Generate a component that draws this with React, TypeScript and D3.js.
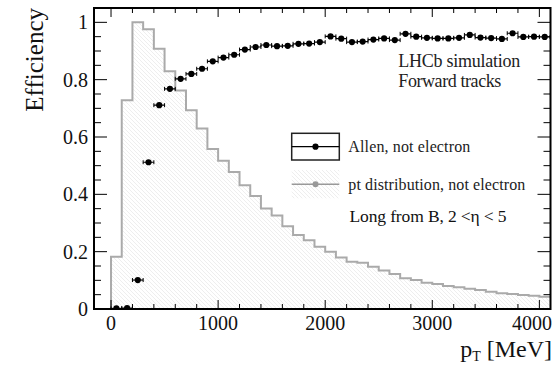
import React from "react";
import * as d3 from "d3";

// Histogram binning (MeV): uniform 100 MeV bins, the pt distribution starts one bin below zero
const binWidth = 100;
const ptDistLowEdge = -100;
const effLowEdge = 0;

// Normalised pt distribution of long tracks from B (bins -100 .. 4100 MeV)
const ptDistribution = [
  0, 0.182, 0.728, 1.0, 0.976, 0.908, 0.829, 0.762, 0.693, 0.63,
  0.558, 0.517, 0.478, 0.432, 0.394, 0.351, 0.326, 0.289, 0.258, 0.24,
  0.217, 0.2, 0.18, 0.165, 0.161, 0.147, 0.134, 0.122, 0.107, 0.101,
  0.092, 0.087, 0.08, 0.076, 0.071, 0.066, 0.06, 0.055, 0.052, 0.049,
  0.046, 0.043,
];

// Allen forward-tracking efficiency, not electrons (bins 0 .. 4100 MeV)
const efficiency = [
  0.002, 0.003, 0.101, 0.512, 0.711, 0.768, 0.803, 0.82, 0.838, 0.864,
  0.877, 0.887, 0.905, 0.914, 0.921, 0.917, 0.918, 0.925, 0.926, 0.931,
  0.951, 0.943, 0.931, 0.933, 0.94, 0.944, 0.938, 0.96, 0.95, 0.946,
  0.944, 0.944, 0.946, 0.956, 0.947, 0.945, 0.942, 0.962, 0.949, 0.95,
  0.949,
];

const xMajorTicks = [0, 1000, 2000, 3000, 4000];
const xMinorStep = 200;
const yMajorTicks = [0, 0.2, 0.4, 0.6, 0.8, 1];
const yMinorStep = 0.05;

const legendLabels = ["Allen, not electron", "pt distribution, not electron"];
const infoLines = ["LHCb simulation", "Forward tracks"];
const selectionLabel = "Long from B, 2 <\u03b7 < 5";

const W = 559;
const H = 365;
const frame = { left: 94, right: 550.5, top: 8, bottom: 309 };
const font = "'Liberation Serif', 'Times New Roman', serif";

export default function App() {
  const x = d3.scaleLinear().domain([-159, 4104]).range([frame.left, frame.right]);
  const y = d3.scaleLinear().domain([0, 1.05]).range([frame.bottom, frame.top]);

  // histogram outline / fill as step curves
  const histPts: [number, number][] = ptDistribution.map((v, i) => [ptDistLowEdge + i * binWidth, v]);
  histPts.push([ptDistLowEdge + ptDistribution.length * binWidth, ptDistribution[ptDistribution.length - 1]]);
  const area = d3
    .area<[number, number]>()
    .x((d) => x(d[0]))
    .y0(y(0))
    .y1((d) => y(d[1]))
    .curve(d3.curveStepAfter);
  const line = d3
    .line<[number, number]>()
    .x((d) => x(d[0]))
    .y((d) => y(d[1]))
    .curve(d3.curveStepAfter);

  const effPts = efficiency.map((v, i) => {
    const lo = effLowEdge + i * binWidth;
    return { lo, hi: lo + binWidth, c: lo + binWidth / 2, v };
  });

  const xMinor = d3.range(0, 4100 + 1, xMinorStep).filter((t) => !xMajorTicks.includes(t));
  const yMinor = d3.range(0, 1.05 + 1e-9, yMinorStep).filter(
    (t) => !yMajorTicks.some((m) => Math.abs(m - t) < 1e-6)
  );
  const fmt = d3.format("~g");

  const legX0 = 291.7;
  const legX1 = 339.3;
  const legXm = (legX0 + legX1) / 2;

  return (
    <svg width={W} height={H} style={{ position: "absolute", left: 0, top: 0 }}>
      <defs>
        <pattern id="hatch" width={4} height={4} patternUnits="userSpaceOnUse">
          <path d="M-1,-1 L5,5 M-1,3 L1,5 M3,-1 L5,1" stroke="#e2e2e2" strokeWidth={0.6} />
        </pattern>
        <clipPath id="plotClip">
          <rect x={frame.left} y={frame.top} width={frame.right - frame.left} height={frame.bottom - frame.top} />
        </clipPath>
      </defs>
      <rect x={0} y={0} width={W} height={H} fill="#fff" />

      <g clipPath="url(#plotClip)">
        <path d={area(histPts) ?? ""} fill="url(#hatch)" />
        <path d={line(histPts) ?? ""} fill="none" stroke="#aaaaaa" strokeWidth={2} />

        {effPts.map((p, i) => (
          <g key={i}>
            <line x1={x(p.lo)} x2={x(p.hi)} y1={y(p.v)} y2={y(p.v)} stroke="#000" strokeWidth={1.2} />
            <line x1={x(p.lo)} x2={x(p.lo)} y1={y(p.v) - 2} y2={y(p.v) + 2} stroke="#000" strokeWidth={1} />
            <line x1={x(p.hi)} x2={x(p.hi)} y1={y(p.v) - 2} y2={y(p.v) + 2} stroke="#000" strokeWidth={1} />
            <circle cx={x(p.c)} cy={y(p.v)} r={3.1} fill="#000" />
          </g>
        ))}
      </g>

      {/* ticks on all four sides, pointing inward */}
      <g stroke="#000" strokeWidth={1}>
        {xMajorTicks.map((t) => (
          <g key={"xM" + t}>
            <line x1={x(t)} x2={x(t)} y1={frame.bottom} y2={frame.bottom - 9} />
            <line x1={x(t)} x2={x(t)} y1={frame.top} y2={frame.top + 9} />
          </g>
        ))}
        {xMinor.map((t) => (
          <g key={"xm" + t}>
            <line x1={x(t)} x2={x(t)} y1={frame.bottom} y2={frame.bottom - 5} />
            <line x1={x(t)} x2={x(t)} y1={frame.top} y2={frame.top + 5} />
          </g>
        ))}
        {yMajorTicks.map((t) => (
          <g key={"yM" + t}>
            <line x1={frame.left} x2={frame.left + 13} y1={y(t)} y2={y(t)} />
            <line x1={frame.right} x2={frame.right - 13} y1={y(t)} y2={y(t)} />
          </g>
        ))}
        {yMinor.map((t) => (
          <g key={"ym" + t}>
            <line x1={frame.left} x2={frame.left + 7} y1={y(t)} y2={y(t)} />
            <line x1={frame.right} x2={frame.right - 7} y1={y(t)} y2={y(t)} />
          </g>
        ))}
      </g>
      <rect
        x={frame.left}
        y={frame.top}
        width={frame.right - frame.left}
        height={frame.bottom - frame.top}
        fill="none"
        stroke="#000"
        strokeWidth={2}
      />

      {/* tick labels */}
      <g fontFamily={font} fontSize={20} fill="#111">
        {yMajorTicks.map((t) => (
          <text key={"yl" + t} x={88} y={y(t) + 7} textAnchor="end">
            {fmt(t)}
          </text>
        ))}
        {xMajorTicks.map((t, i) => (
          <text
            key={"xl" + t}
            x={i === xMajorTicks.length - 1 ? 552 : x(t)}
            y={330}
            textAnchor={i === xMajorTicks.length - 1 ? "end" : "middle"}
          >
            {fmt(t)}
          </text>
        ))}
      </g>

      {/* axis titles */}
      <text
        fontFamily={font}
        fontSize={25}
        fill="#111"
        textAnchor="end"
        transform={`translate(43, ${frame.top}) rotate(-90)`}
      >
        Efficiency
      </text>
      <text fontFamily={font} fontSize={24} fill="#111" x={552} y={357} textAnchor="end">
        p
        <tspan fontSize={14} dy={4}>
          T
        </tspan>
        <tspan dy={-4}> [MeV]</tspan>
      </text>

      {/* legend */}
      <rect x={legX0} y={133.3} width={legX1 - legX0} height={26.7} fill="#fff" stroke="#222" strokeWidth={1.5} />
      <line x1={legX0} x2={legX1} y1={146.7} y2={146.7} stroke="#000" strokeWidth={1.2} />
      <circle cx={legXm} cy={146.7} r={3.1} fill="#000" />
      <rect x={legX0} y={170} width={legX1 - legX0} height={28.3} fill="url(#hatch)" />
      <line x1={legX0} x2={legX1} y1={184.3} y2={184.3} stroke="#999" strokeWidth={1.5} />
      <circle cx={legXm} cy={184.3} r={3} fill="#999" />
      <g fontFamily={font} fontSize={16} fill="#222">
        <text x={348.3} y={152} textLength={122} lengthAdjust="spacing">
          {legendLabels[0]}
        </text>
        <text x={348.3} y={189.5} textLength={177} lengthAdjust="spacing">
          {legendLabels[1]}
        </text>
      </g>
      <text fontFamily={font} fontSize={17.5} fill="#111" x={349.5} y={222} textLength={157} lengthAdjust="spacing">
        {selectionLabel}
      </text>

      <g fontFamily={font} fontSize={18} fill="#222">
        <text x={398.3} y={66.5} textLength={122} lengthAdjust="spacing">
          {infoLines[0]}
        </text>
        <text x={398.3} y={87} textLength={103} lengthAdjust="spacing">
          {infoLines[1]}
        </text>
      </g>
    </svg>
  );
}
